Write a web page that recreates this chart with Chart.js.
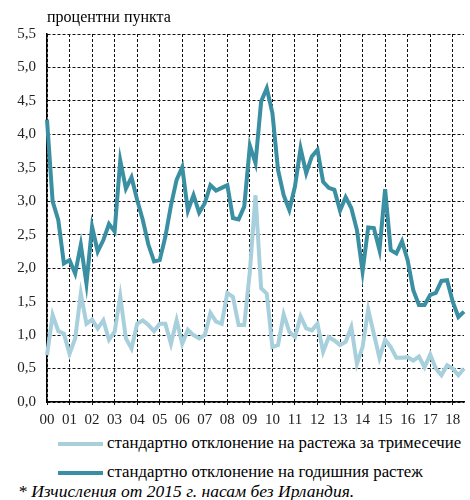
<!DOCTYPE html>
<html>
<head>
<meta charset="utf-8">
<script src="https://cdn.jsdelivr.net/npm/chart.js@4/dist/chart.umd.min.js"></script>
<style>
  html,body{margin:0;padding:0;background:#fff;}
  #wrap{position:relative;width:470px;height:500px;overflow:hidden;font-family:"Liberation Serif",serif;color:#000;}
  #c{position:absolute;left:0;top:0;}
  .t{position:absolute;white-space:nowrap;}
  .sw{position:absolute;height:4px;width:45px;}
</style>
</head>
<body>
<div id="wrap">
  <canvas id="c" width="470" height="430"></canvas>
  <div class="t" style="left:47px;top:8px;font-size:16px;">процентни пункта</div>
  <div class="sw" style="left:58px;top:442px;background:#a8d0dc;"></div>
  <div class="t" style="left:107px;top:433px;font-size:16.8px;">стандартно отклонение на растежа за тримесечие</div>
  <div class="sw" style="left:58px;top:471px;background:#3a8fa2;"></div>
  <div class="t" style="left:107px;top:462px;font-size:16.8px;">стандартно отклонение на годишния растеж</div>
  <div class="t" style="left:18px;top:481px;font-size:17.5px;font-style:italic;">* Изчисления от 2015 г. насам без Ирландия.</div>
</div>
<script>
const years = ["2000","2001","2002","2003","2004","2005","2006","2007","2008","2009","2010","2011","2012","2013","2014","2015","2016","2017","2018"];
const quarters = ["Q1","Q2","Q3","Q4"];
const lastYearQuarters = 3;

const quarterlySD = [
  0.70,1.30,1.06,1.02, 0.72,0.95,1.62,1.17, 1.23,1.10,1.22,0.93, 1.05,1.58,0.95,0.80,
  1.17,1.22,1.15,1.06, 1.17,1.17,0.87,1.22, 0.87,1.08,1.00,0.95, 1.00,1.33,1.20,1.17,
  1.63,1.57,1.15,1.15, 1.95,3.09,1.70,1.62, 0.82,0.85,1.31,1.05, 0.97,1.28,1.10,1.07,
  1.17,0.75,0.97,0.92, 0.85,0.90,1.12,0.57, 0.82,1.38,1.02,0.66, 0.93,0.82,0.66,0.66,
  0.67,0.62,0.68,0.52, 0.71,0.50,0.40,0.55, 0.50,0.40,0.50
];
const annualSD = [
  4.22,3.00,2.72,2.07, 2.12,1.92,2.35,1.77, 2.62,2.25,2.42,2.66, 2.55,3.61,3.19,3.36,
  3.02,2.72,2.35,2.10, 2.12,2.47,2.94,3.32, 3.51,2.86,3.09,2.83, 2.97,3.24,3.16,3.20,
  3.24,2.75,2.73,2.92, 3.83,3.57,4.49,4.69, 4.32,3.47,3.09,2.87, 3.22,3.79,3.42,3.67,
  3.77,3.29,3.20,3.17, 2.86,3.06,2.90,2.57, 1.95,2.61,2.60,2.27, 3.18,2.27,2.22,2.40,
  2.12,1.67,1.45,1.45, 1.60,1.63,1.81,1.82, 1.50,1.27,1.35
];
const yMin = 0, yMax = 5.5, yStep = 0.5;

const labels = [];
years.forEach((y, i) => {
  const n = (i === years.length - 1) ? lastYearQuarters : 4;
  for (let q = 0; q < n; q++) labels.push(y + quarters[q]);
});

const tickFont = {family: "Liberation Serif", size: 15};

new Chart(document.getElementById('c'), {
  type: 'line',
  data: {
    labels: labels,
    datasets: [
      {label: 'стандартно отклонение на растежа за тримесечие', data: quarterlySD,
       borderColor: '#a8d0dc', borderWidth: 4, pointRadius: 0, tension: 0, fill: false},
      {label: 'стандартно отклонение на годишния растеж', data: annualSD,
       borderColor: '#3a8fa2', borderWidth: 4, pointRadius: 0, tension: 0, fill: false}
    ]
  },
  options: {
    responsive: false,
    animation: false,
    devicePixelRatio: 1,
    layout: {padding: {top: 34, right: 0, bottom: 0, left: 0}},
    plugins: {legend: {display: false}, tooltip: {enabled: false}, title: {display: false}},
    scales: {
      x: {
        type: 'category',
        offset: false,
        afterFit: s => { s.height = 28; },
        grid: {
          color: ctx => (ctx.index % 4 === 0) ? '#111' : 'rgba(0,0,0,0)',
          lineWidth: 1, tickLength: 3, drawOnChartArea: true
        },
        border: {display: true, color: '#000', width: 1.5, dash: [3, 2]},
        ticks: {
          autoSkip: false, maxRotation: 0, minRotation: 0, padding: 6,
          color: '#222', font: tickFont,
          callback: function(v) {
            const l = this.getLabelForValue(v);
            return l.endsWith('Q1') ? l.slice(2, 4) : '';
          }
        }
      },
      y: {
        min: yMin, max: yMax,
        afterFit: s => { s.width = 47; },
        grid: {color: '#111', lineWidth: 1, drawTicks: false, tickLength: 0},
        border: {display: true, color: '#000', width: 1.5, dash: [3, 2]},
        ticks: {
          stepSize: yStep, padding: 11, color: '#222', font: tickFont,
          callback: v => v.toFixed(1).replace('.', ',')
        }
      }
    }
  }
});
</script>
</body>
</html>
